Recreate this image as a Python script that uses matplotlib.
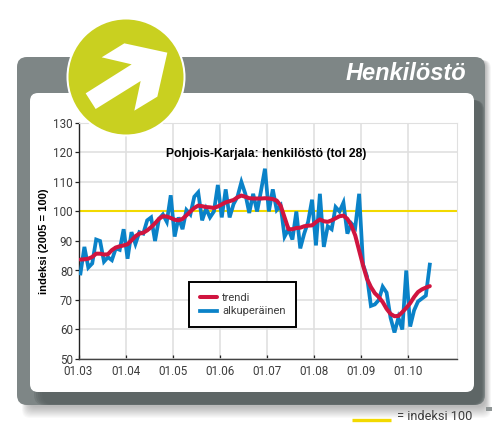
###Numpy
import numpy as np
###Matplotlib
import matplotlib
matplotlib.use("Agg")
import matplotlib.pyplot as plt
from matplotlib.patches import FancyBboxPatch, Circle, Polygon, Rectangle

plt.rcParams['font.family'] = ['Roboto', 'DejaVu Sans']
BOLDFONT = ['Liberation Sans', 'DejaVu Sans']

############### Data (monthly, 01.2003 - 06.2010) ################

alkuperainen = [79, 88, 81, 82.4, 90.5, 90, 83, 84.5, 83.5, 87.5, 87, 94,
	84, 93, 89, 93, 92.5, 97, 98, 90, 97.5, 99, 96.5, 105.5,
	91.5, 98, 94, 100.5, 99, 105, 106.5, 97, 101, 98, 100, 109,
	98, 107.5, 98, 102.5, 105, 110, 106, 99.5, 106, 100, 107, 114.5,
	100, 107.5, 100.5, 102, 91.5, 94, 90.5, 100, 87.5, 92.5, 96.5, 104,
	88.5, 106, 88, 95, 94, 101.5, 100, 103, 92.5, 96, 94.5, 106,
	82, 78, 68, 68.5, 70, 74.5, 72.5, 64, 59, 64, 60, 80,
	61, 66.5, 69.5, 70.5, 71.5, 82]
trendi = [83.7, 83.8, 84, 84.6, 85.7, 85.7, 85.4, 85.5, 86.9, 87.8, 88.2, 88.5,
	88.9, 90.2, 91.6, 92.5, 92.8, 93.6, 94.7, 96, 97.5, 98.4, 98.3, 97.8,
	97.2, 97, 97.5, 98.7, 100, 101.2, 102, 101.8, 101.5, 101.4, 101.2, 101.7,
	102.4, 103.1, 103.5, 103.9, 104.8, 105.4, 105, 104.5, 104.4, 104.4, 104.4, 104.5,
	104.4, 104.2, 103.7, 102, 98, 94, 94, 94.4, 94.5, 95, 95.2, 95.3,
	96.4, 97.3, 96.7, 96.5, 97, 97.7, 98.4, 98.6, 97.5, 95.3, 91.9, 86.8,
	81.7, 77.2, 74.4, 72.3, 71, 69.3, 67, 65.3, 64.5, 64.6, 65.9, 67.3,
	68.9, 71, 72.7, 73.6, 74.2, 74.7]
xticklabels = ['01.03', '01.04', '01.05', '01.06', '01.07', '01.08', '01.09', '01.10']
yticks = [50, 60, 70, 80, 90, 100, 110, 120, 130]
viiteindeksi = 100

W, H = 492, 423
GRAY = '#7e8686'
DARK = '#5a6262'
BLUE = '#0a82c8'
RED = '#d0143f'
YELLOW = '#f2d900'
OLIVE = '#c9d020'
TEXT = '#3c3c3c'

fig = plt.figure(figsize=(W/100, H/100), dpi=100, facecolor='white')

############### Panel behind the chart (pixel coordinates) ################

bg = fig.add_axes([0, 0, 1, 1], zorder=0)
bg.set_xlim(0, W)
bg.set_ylim(H, 0)
bg.axis('off')

def box(ax, x0, y0, x1, y1, r, **kw):
	p = FancyBboxPatch((x0+r, y0+r), x1-x0-2*r, y1-y0-2*r,
		boxstyle='round,pad=%g,rounding_size=%g' % (r, r), linewidth=0, **kw)
	ax.add_patch(p)

#soft shadow
for k in range(12):
	box(bg, 22+k*0.6, 60, 491-k*0.5, 418-k, 8, facecolor='black', alpha=0.022)
box(bg, 17, 57, 485, 405, 10, facecolor=GRAY)
#darker band on the bottom and right of the panel
for k in range(5):
	box(bg, 34+k*2, 100, 484-k*0.6, 405-k*0.2, 10, facecolor=DARK, alpha=0.3)
box(bg, 30, 93, 474, 392, 8, facecolor='white')
bg.add_patch(Rectangle((486, 407), 6, 4, facecolor='#8f9595', linewidth=0))

bg.text(466, 80, 'Henkilöstö', color='white', fontsize=17, style='italic', fontweight='bold',
	family=BOLDFONT, ha='right', va='baseline')

bg.plot([352, 391], [420, 420], color=YELLOW, lw=2.4, solid_capstyle='butt')
bg.text(397, 416.5, '= indeksi 100', color=TEXT, fontsize=9.2, ha='left', va='center')

############### Chart ################

left, right, top, bottom = 78.5, 457, 123, 359
ax = fig.add_axes([left/W, 1-bottom/H, (right-left)/W, (bottom-top)/H], zorder=1)
ax.patch.set_alpha(0)

months = np.arange(len(alkuperainen)) + 0.5
ax.plot(months, alkuperainen, color=BLUE, lw=2.7, solid_joinstyle='miter', label='alkuperäinen', zorder=3)
ax.axhline(viiteindeksi, color=YELLOW, lw=1.5, zorder=2)
ax.plot(months, trendi, color=RED, lw=2.9, solid_capstyle='round', label='trendi', zorder=4)

ax.set_xlim(0, (right-left)/3.925)
ax.set_ylim(50, 130)
ax.set_xticks(np.arange(len(xticklabels))*12)
ax.set_xticklabels(xticklabels)
ax.set_yticks(yticks)
ax.grid(True, color='#e0e0e0', lw=1.2, zorder=0)
ax.set_axisbelow(True)
ax.tick_params(axis='x', direction='in', length=3, width=0.9, color='#222222', labelsize=8.4, labelcolor=TEXT, pad=4)
ax.tick_params(axis='y', direction='out', length=3, width=0.9, color='#222222', labelsize=8.4, labelcolor=TEXT, pad=1)
ax.spines['left'].set_color('#222222')
ax.spines['bottom'].set_color('#444444')
ax.spines['left'].set_linewidth(1.0)
ax.spines['bottom'].set_linewidth(1.0)
ax.spines['top'].set_color('#e0e0e0')
ax.spines['right'].set_color('#e0e0e0')

ax.set_ylabel('indeksi (2005 = 100)', fontsize=8, fontweight='bold', color='black', family=BOLDFONT)
ax.yaxis.set_label_coords((49-left)/(right-left), 0.5)
ax.text((266-left)/(right-left), 1-(153.5-top)/(bottom-top), 'Pohjois-Karjala: henkilöstö (tol 28)',
	transform=ax.transAxes, fontsize=8.7, fontweight='bold', ha='center', va='center', color='black',
	family=BOLDFONT)

handles, labels = ax.get_legend_handles_labels()
leg = ax.legend(handles[::-1], labels[::-1], loc='lower left',
	bbox_to_anchor=((189-left)/(right-left), 1-(327-top)/(bottom-top)),
	borderaxespad=0, fancybox=False, framealpha=1, edgecolor='black',
	fontsize=8, handlelength=1.6, handletextpad=0.45, labelspacing=0.35,
	borderpad=0.95, labelcolor=TEXT)
leg.get_frame().set_linewidth(1.4)
leg.set_zorder(6)

############### Arrow badge over the chart ################

top_ax = fig.add_axes([0, 0, 1, 1], zorder=2)
top_ax.set_xlim(0, W)
top_ax.set_ylim(H, 0)
top_ax.axis('off')
top_ax.add_patch(Circle((126, 77), 59.5, facecolor='white', linewidth=0))
top_ax.add_patch(Circle((126, 77), 57.5, facecolor=OLIVE, linewidth=0))
arrow = np.array([[373, 130], [502, 158], [472, 290], [403, 332], [422, 243],
	[287, 327], [257, 280], [395, 193], [305, 172]])/3
top_ax.add_patch(Polygon(arrow, closed=True, facecolor='white', linewidth=0))

fig.savefig('out.png', dpi=100)
